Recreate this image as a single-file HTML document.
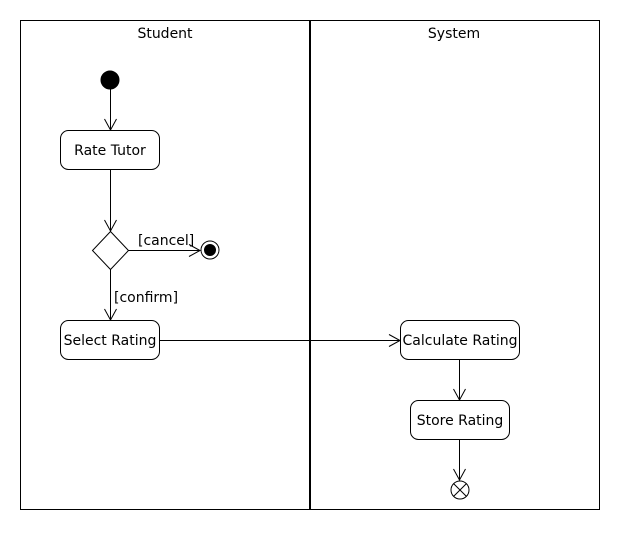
<!DOCTYPE html>
<html><head><meta charset="utf-8"><style>html,body{margin:0;padding:0;background:#fff}</style></head>
<body>
<svg width="620" height="530" xmlns="http://www.w3.org/2000/svg" font-family="'DejaVu Sans', 'Liberation Sans', sans-serif" font-size="14">
<rect x="0" y="0" width="620" height="530" fill="#fff"/>
<rect x="20.5" y="20.5" width="579" height="489" fill="none" stroke="#000" stroke-width="1"/>
<line x1="310" y1="20" x2="310" y2="510" stroke="#000" stroke-width="2"/>
<text x="165" y="38" text-anchor="middle">Student</text>
<text x="454" y="38" text-anchor="middle">System</text>
<g stroke="#000" stroke-width="1" fill="none">
<circle cx="110" cy="80" r="9" fill="#000"/>
<line x1="110.5" y1="89" x2="110.5" y2="130"/>
<polyline points="104.5,119 110.5,130 116.5,119"/>
<rect x="60.5" y="130.5" width="99" height="39" rx="8" fill="#fff"/>
<line x1="110.5" y1="170" x2="110.5" y2="231"/>
<polyline points="104.5,220 110.5,231 116.5,220"/>
<polygon points="110.5,231.5 128.5,250.5 110.5,269.5 92.5,250.5" fill="#fff"/>
<line x1="128" y1="250.5" x2="200" y2="250.5"/>
<polyline points="189,244.5 200,250.5 189,256.5"/>
<circle cx="210" cy="250" r="9" fill="#fff"/>
<circle cx="210" cy="250" r="5.5" fill="#000"/>
<line x1="110.5" y1="269" x2="110.5" y2="320"/>
<polyline points="104.5,309 110.5,320 116.5,309"/>
<rect x="60.5" y="320.5" width="99" height="39" rx="8" fill="#fff"/>
<line x1="160" y1="340.5" x2="400" y2="340.5"/>
<polyline points="389,334.5 400,340.5 389,346.5"/>
<rect x="400.5" y="320.5" width="119" height="39" rx="8" fill="#fff"/>
<line x1="459.5" y1="360" x2="459.5" y2="400"/>
<polyline points="453.5,389 459.5,400 465.5,389"/>
<rect x="410.5" y="400.5" width="99" height="39" rx="8" fill="#fff"/>
<line x1="459.5" y1="440" x2="459.5" y2="480"/>
<polyline points="453.5,469 459.5,480 465.5,469"/>
<circle cx="460" cy="490" r="9" fill="#fff"/>
<line x1="453.6" y1="483.6" x2="466.4" y2="496.4"/>
<line x1="466.4" y1="483.6" x2="453.6" y2="496.4"/>
</g>
<text x="110" y="155" text-anchor="middle">Rate Tutor</text>
<text x="110" y="345" text-anchor="middle">Select Rating</text>
<text x="460" y="345" text-anchor="middle">Calculate Rating</text>
<text x="460" y="425" text-anchor="middle">Store Rating</text>
<text x="138" y="245">[cancel]</text>
<text x="114" y="302">[confirm]</text>
</svg>
</body></html>
